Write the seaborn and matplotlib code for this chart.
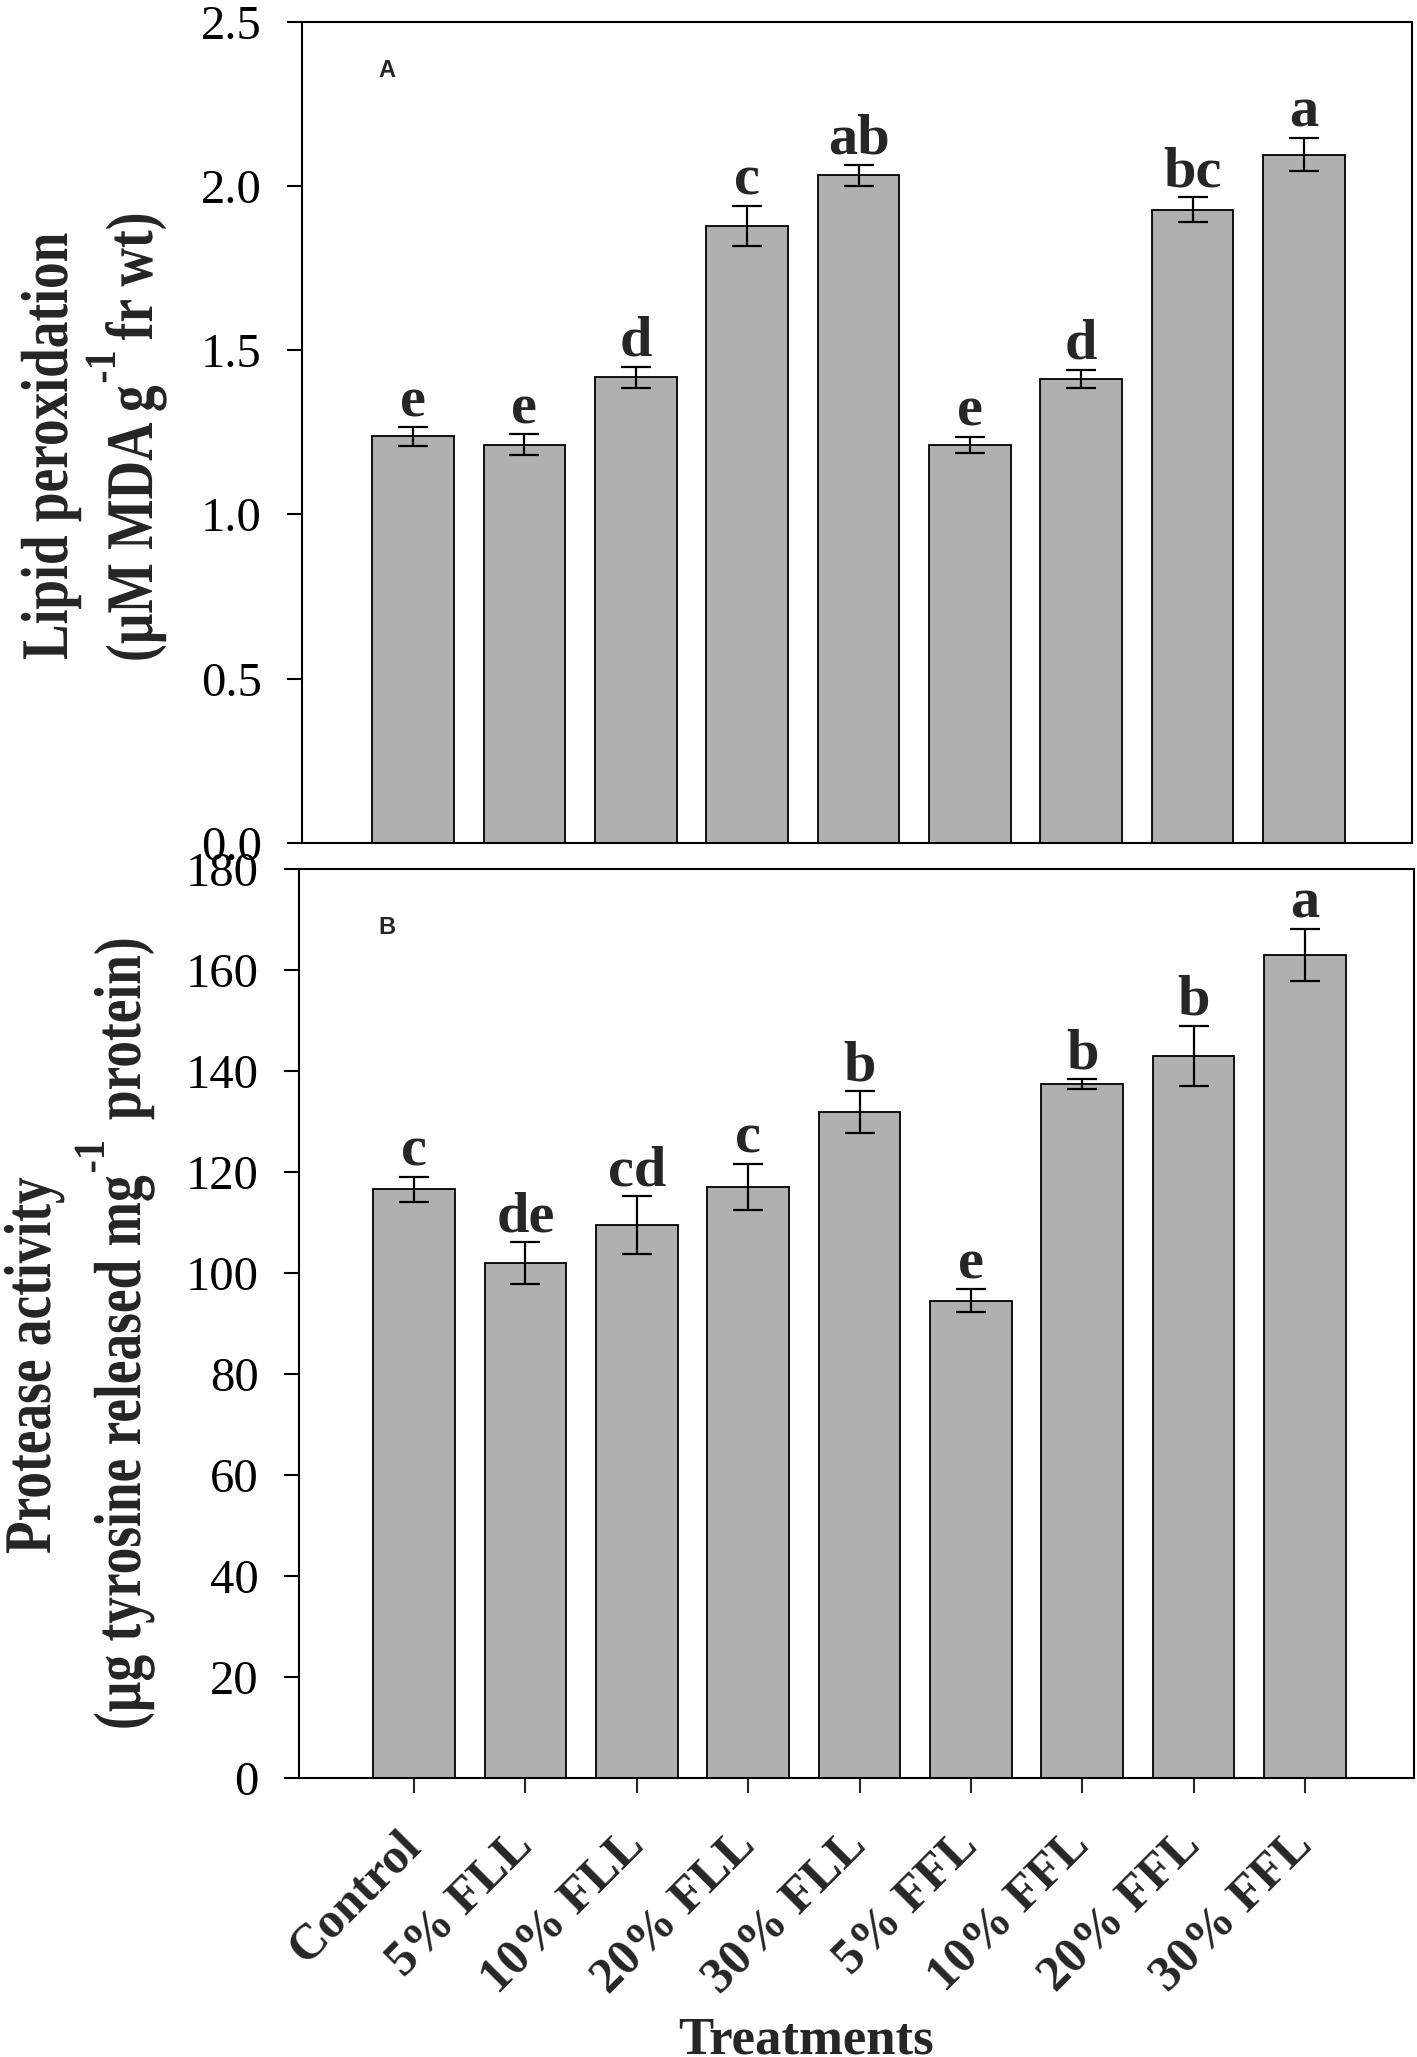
import numpy as np
import matplotlib
matplotlib.use("Agg")
import matplotlib.pyplot as plt
import matplotlib.patheffects as patheffects
from matplotlib.transforms import Affine2D
from matplotlib.ticker import FormatStrFormatter
import seaborn as sns

# -- data --
treatments = ["Control", "5% FLL", "10% FLL", "20% FLL", "30% FLL",
              "5% FFL", "10% FFL", "20% FFL", "30% FFL"]

lipid = [1.237, 1.212, 1.417, 1.878, 2.033, 1.212, 1.413, 1.927, 2.095]
lipid_se = [0.028, 0.032, 0.032, 0.062, 0.032, 0.024, 0.027, 0.038, 0.051]
lipid_letters = ["e", "e", "d", "c", "ab", "e", "d", "bc", "a"]

protease = [116.6, 102.0, 109.5, 117.0, 131.9, 94.5, 137.4, 143.0, 163.0]
protease_se = [2.5, 4.1, 5.7, 4.6, 4.1, 2.3, 1.0, 6.0, 5.2]
protease_letters = ["c", "de", "cd", "c", "b", "e", "b", "b", "a"]

lipid_ticks = [0.0, 0.5, 1.0, 1.5, 2.0, 2.5]
protease_ticks = [0, 20, 40, 60, 80, 100, 120, 140, 160, 180]

BAR_COLOR = "#afb0af"


class Squeeze(patheffects.AbstractPathEffect):
    """Maakt tekst smaller in de leesrichting (condensed look)."""

    def __init__(self, sx):
        super().__init__()
        self._sx = sx

    def draw_path(self, renderer, gc, tpath, affine, rgbFace=None):
        renderer.draw_path(gc, tpath, Affine2D().scale(self._sx, 1.0) + affine, rgbFace)


sns.set_style("ticks")
plt.rcParams["font.family"] = ["Liberation Serif", "DejaVu Serif"]

W, H = 1417, 2057
fig = plt.figure(figsize=(W / 100, H / 100), dpi=100)
ax1 = fig.add_axes([301.7 / W, 1 - 842.7 / H, (1412 - 301.7) / W, (842.7 - 21.7) / H])
ax2 = fig.add_axes([299 / W, 1 - 1777.7 / H, (1414 - 299) / W, (1777.7 - 869.3) / H])


def bar_panel(ax, values, errs, letters):
    sns.barplot(x=treatments, y=values, order=treatments, color=BAR_COLOR,
                saturation=1, edgecolor="black", linewidth=1.3, width=0.733,
                errorbar=None, ax=ax)
    pos = np.arange(len(treatments))
    ax.errorbar(pos, values, yerr=errs, fmt="none", ecolor="black",
                elinewidth=1.6, capsize=10.5, capthick=1.6)
    for i, (v, e, lab) in enumerate(zip(values, errs, letters)):
        ax.annotate(lab, xy=(i, v + e), xytext=(0, 8), textcoords="offset points",
                    ha="center", va="baseline", fontsize=42, fontweight="bold")
    for sp in ax.spines.values():
        sp.set_linewidth(1.5)
        sp.set_color("black")
    ax.tick_params(axis="y", direction="out", length=10.8, width=1.5,
                   labelsize=35, pad=18, colors="black")
    ax.set_xlabel("")
    ax.set_ylabel("")


# Panel A
bar_panel(ax1, lipid, lipid_se, lipid_letters)
ax1.set_xlim(-1.0, 8.97)
ax1.set_ylim(0, 2.5)
ax1.set_yticks(lipid_ticks)
ax1.yaxis.set_major_formatter(FormatStrFormatter("%.1f"))
ax1.tick_params(axis="x", bottom=False, labelbottom=False)
ax1.text(0.077, 0.94, "A", transform=ax1.transAxes, fontsize=17, fontweight="bold",
         family="Liberation Sans", ha="center", va="center")

# Panel B
bar_panel(ax2, protease, protease_se, protease_letters)
ax2.set_xlim(-1.034, 8.98)
ax2.set_ylim(0, 180)
ax2.set_yticks(protease_ticks)
ax2.tick_params(axis="x", direction="out", length=10.8, width=1.5, pad=33)
ax2.set_xticks(np.arange(len(treatments)))
ax2.set_xticklabels(treatments, rotation=45, ha="right", va="center",
                    rotation_mode="anchor", fontsize=36, fontweight="bold")
ax2.text(0.079, 0.936, "B", transform=ax2.transAxes, fontsize=17, fontweight="bold",
         family="Liberation Sans", ha="center", va="center")

# As-labels: stukjes tekst van onder naar boven op een basislijn (px vanaf linksboven)
renderer = fig.canvas.get_renderer()


def rotated_label(x_base, y_start, pieces):
    y = y_start
    for text, size, sq, raise_px, gap in pieces:
        y -= gap
        t = fig.text((x_base - raise_px) / W, 1 - y / H, text, rotation=90,
                     rotation_mode="anchor", ha="left", va="baseline",
                     fontsize=size, fontweight="bold",
                     path_effects=[Squeeze(sq)])
        y -= t.get_window_extent(renderer).height * sq


body, sup = 48, 32
rotated_label(67, 660, [("Lipid peroxidation", body, 0.8, 0, 0)])
rotated_label(152, 662, [("(µM MDA g", body, 0.8, 0, 0),
                         ("-1", sup, 0.9, 37, 2),
                         ("fr wt)", body, 0.8, 0, 10)])
rotated_label(50, 1554, [("Protease activity", body, 0.8, 0, 0)])
rotated_label(140, 1730, [("(µg tyrosine released mg", body, 0.8, 0, 0),
                          ("-1", sup, 0.9, 36, 3),
                          ("protein)", body, 0.8, 0, 20)])

fig.text(806 / W, 4 / H, "Treatments", ha="center", va="baseline",
         fontsize=38, fontweight="bold")

fig.savefig("out.png", dpi=100)
